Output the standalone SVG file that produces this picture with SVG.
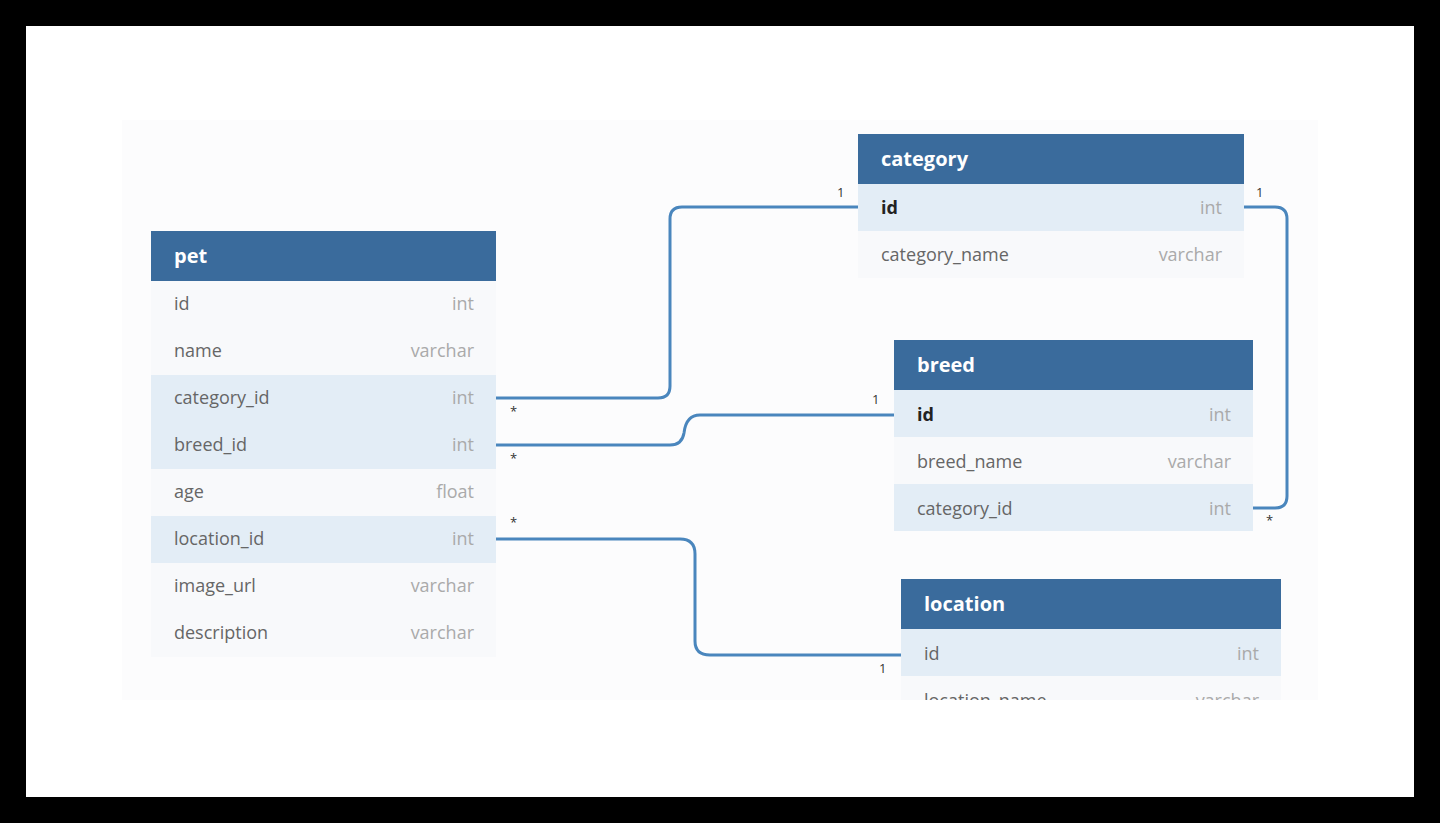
<svg xmlns="http://www.w3.org/2000/svg" width="1440" height="823" viewBox="0 0 1440 823">
<style>
.hd{fill:#3a6b9c}
.ht{font-family:"Open Sans",sans-serif;font-weight:bold;font-size:20px;fill:#fff}
.r{fill:#f8f9fb}
.rh{fill:#e3edf6}
.f{font-family:"Open Sans",sans-serif;font-size:18px;fill:#666}
.fb{font-family:"Open Sans",sans-serif;font-size:18px;fill:#222;font-weight:bold}
.t{font-family:"Open Sans",sans-serif;font-size:18px;fill:#aaa;text-anchor:end}
.c{fill:none;stroke:#4a86bd;stroke-width:3}
.m{font-family:"Open Sans",sans-serif;font-size:13px;fill:#333}
</style>
<defs><clipPath id="cp"><rect x="0" y="0" width="1440" height="700"/></clipPath></defs>
<rect width="1440" height="823" fill="#000"/>
<rect x="26" y="26" width="1388" height="771" fill="#fff"/>
<rect x="122" y="120" width="1196" height="580" fill="#fcfcfd"/>
<g id="connectors">
<path class="c" d="M496 398 H658 Q670 398 670 386 V219 Q670 207 682 207 H858"/>
<path class="c" d="M496 445 H670 Q682 445 684 433 Q686 415 700 415 H894"/>
<path class="c" d="M496 539 H680 Q695 539 695 554 V641 Q695 655 710 655 H901"/>
<path class="c" d="M1244 207 H1275 Q1287 207 1287 219 V496 Q1287 508 1275 508 H1253"/>
<text class="m" x="510" y="416">*</text>
<text class="m" x="510" y="463">*</text>
<text class="m" x="510" y="527">*</text>
<text class="m" x="837" y="197">1</text>
<text class="m" x="872" y="404">1</text>
<text class="m" x="879" y="673">1</text>
<text class="m" x="1256" y="197">1</text>
<text class="m" x="1266" y="525">*</text>
</g>
<g id="pet">
<rect class="hd" x="151" y="231" width="345" height="50"/>
<text class="ht" x="174" y="263">pet</text>
<rect class="r" x="151" y="281" width="345" height="94"/>
<rect class="rh" x="151" y="375" width="345" height="94"/>
<rect class="r" x="151" y="469" width="345" height="47"/>
<rect class="rh" x="151" y="516" width="345" height="47"/>
<rect class="r" x="151" y="563" width="345" height="94"/>
<text class="f" x="174" y="310">id</text><text class="t" x="474" y="310">int</text>
<text class="f" x="174" y="357">name</text><text class="t" x="474" y="357">varchar</text>
<text class="f" x="174" y="404">category_id</text><text class="t" x="474" y="404">int</text>
<text class="f" x="174" y="451">breed_id</text><text class="t" x="474" y="451">int</text>
<text class="f" x="174" y="498">age</text><text class="t" x="474" y="498">float</text>
<text class="f" x="174" y="545">location_id</text><text class="t" x="474" y="545">int</text>
<text class="f" x="174" y="592">image_url</text><text class="t" x="474" y="592">varchar</text>
<text class="f" x="174" y="639">description</text><text class="t" x="474" y="639">varchar</text>
</g>
<g id="category">
<rect class="hd" x="858" y="134" width="386" height="50"/>
<text class="ht" x="881" y="166">category</text>
<rect class="rh" x="858" y="184" width="386" height="47"/>
<rect class="r" x="858" y="231" width="386" height="47"/>
<text class="fb" x="881" y="214">id</text><text class="t" x="1222" y="214">int</text>
<text class="f" x="881" y="261">category_name</text><text class="t" x="1222" y="261">varchar</text>
</g>
<g id="breed">
<rect class="hd" x="894" y="340" width="359" height="50"/>
<text class="ht" x="917" y="372">breed</text>
<rect class="rh" x="894" y="390" width="359" height="47"/>
<rect class="r" x="894" y="437" width="359" height="47"/>
<rect class="rh" x="894" y="484" width="359" height="47"/>
<text class="fb" x="917" y="421">id</text><text class="t" x="1231" y="421">int</text>
<text class="f" x="917" y="468">breed_name</text><text class="t" x="1231" y="468">varchar</text>
<text class="f" x="917" y="515">category_id</text><text class="t" x="1231" y="515">int</text>
</g>
<g id="location" clip-path="url(#cp)">
<rect class="hd" x="901" y="579" width="380" height="50"/>
<text class="ht" x="924" y="611">location</text>
<rect class="rh" x="901" y="629" width="380" height="47"/>
<rect class="r" x="901" y="676" width="380" height="47"/>
<text class="f" x="924" y="660">id</text><text class="t" x="1259" y="660">int</text>
<text class="f" x="924" y="707">location_name</text><text class="t" x="1259" y="707">varchar</text>
</g>
</svg>
